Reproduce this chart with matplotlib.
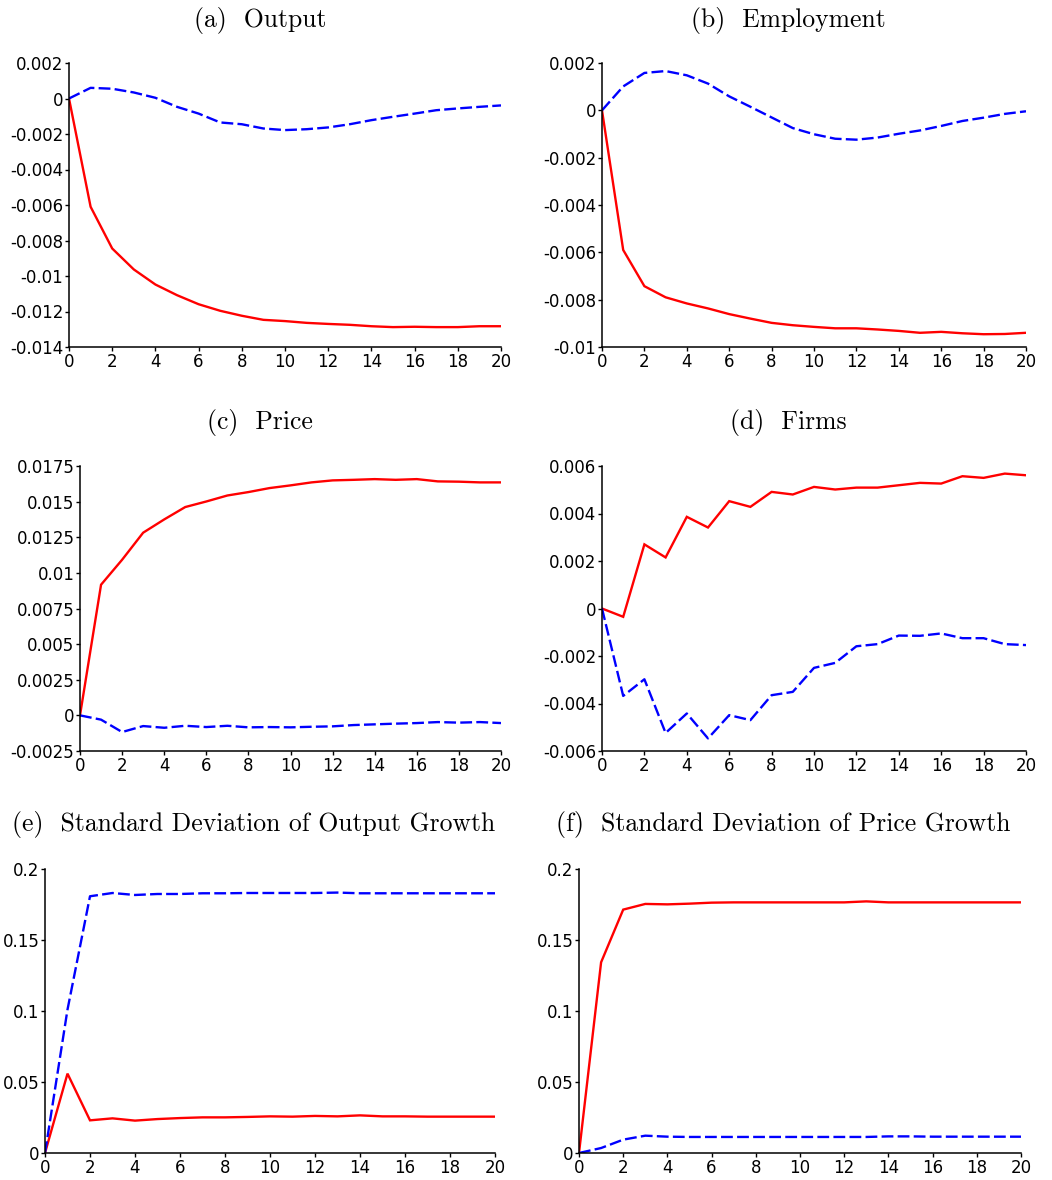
import matplotlib
matplotlib.use("Agg")
import matplotlib.pyplot as plt
from matplotlib.ticker import FuncFormatter, MultipleLocator
import numpy as np

plt.rcParams['font.family'] = 'DejaVu Sans'
plt.rcParams['axes.unicode_minus'] = False

periods = np.arange(21)

# impulse responses: red solid line and blue dashed line per panel
output_red = [0, -0.0061, -0.00845, -0.00963, -0.01048, -0.01108, -0.01159, -0.01196, -0.01224, -0.01247,
              -0.01254, -0.01264, -0.0127, -0.01275, -0.01283, -0.01288, -0.01286, -0.01288, -0.01288, -0.01283, -0.01283]
output_blue = [0, 0.0006, 0.00055, 0.00034, 0.00004, -0.00047, -0.00085, -0.00135, -0.00145, -0.00169,
               -0.00178, -0.00173, -0.00163, -0.00145, -0.00122, -0.00103, -0.00085, -0.00066, -0.00056, -0.00047, -0.00039]

employment_red = [0, -0.0059, -0.00743, -0.0079, -0.00816, -0.00837, -0.00861, -0.0088, -0.00898, -0.00908,
                  -0.00915, -0.00921, -0.00921, -0.00926, -0.00932, -0.0094, -0.00936, -0.00942, -0.00946, -0.00945, -0.0094]
employment_blue = [0, 0.00101, 0.00158, 0.00166, 0.00148, 0.00113, 0.00059, 0.00015, -0.0003, -0.00075,
                   -0.00101, -0.0012, -0.00124, -0.00115, -0.00099, -0.00085, -0.00066, -0.00045, -0.00031, -0.00015, -0.00004]

price_red = [0, 0.00917, 0.01092, 0.01282, 0.01375, 0.01462, 0.01501, 0.01543, 0.01567, 0.01595,
             0.01614, 0.01635, 0.01649, 0.01653, 0.01658, 0.01653, 0.01658, 0.01642, 0.0164, 0.01635, 0.01635]
price_blue = [0, -0.0003, -0.00117, -0.00075, -0.00087, -0.00073, -0.00082, -0.00073, -0.00084, -0.00082,
              -0.00084, -0.0008, -0.00077, -0.00068, -0.00063, -0.00058, -0.00054, -0.00047, -0.00051, -0.00047, -0.00054]

firms_red = [0, -0.00035, 0.0027, 0.00215, 0.00386, 0.00341, 0.00452, 0.00428, 0.00491, 0.0048,
             0.00512, 0.00501, 0.00509, 0.00509, 0.00519, 0.00529, 0.00526, 0.00557, 0.0055, 0.00568, 0.00561]
firms_blue = [0, -0.00368, -0.00298, -0.00524, -0.00442, -0.00547, -0.00449, -0.0047, -0.00365, -0.00351,
              -0.0025, -0.00229, -0.00159, -0.0015, -0.00114, -0.00115, -0.00105, -0.00125, -0.00125, -0.0015, -0.00154]

sd_output_red = [0, 0.0559, 0.023, 0.0244, 0.0228, 0.0239, 0.0246, 0.0251, 0.0251, 0.0254,
                 0.0258, 0.0256, 0.0261, 0.0258, 0.0265, 0.0258, 0.0258, 0.0256, 0.0256, 0.0256, 0.0256]
sd_output_blue = [0, 0.101, 0.1808, 0.1831, 0.1817, 0.1824, 0.1824, 0.1829, 0.1829, 0.1831,
                  0.1831, 0.1831, 0.1831, 0.1834, 0.1829, 0.1829, 0.1829, 0.1829, 0.1829, 0.1829, 0.1829]

sd_price_red = [0, 0.1343, 0.1714, 0.1754, 0.1751, 0.1756, 0.1763, 0.1765, 0.1765, 0.1765,
                0.1765, 0.1765, 0.1765, 0.1772, 0.1765, 0.1765, 0.1765, 0.1765, 0.1765, 0.1765, 0.1765]
sd_price_blue = [0, 0.0035, 0.0094, 0.0122, 0.0115, 0.0113, 0.0113, 0.0113, 0.0113, 0.0113,
                 0.0113, 0.0113, 0.0113, 0.0113, 0.0117, 0.0117, 0.0115, 0.0115, 0.0115, 0.0115, 0.0115]

titles = ['(a)  Output', '(b)  Employment', '(c)  Price', '(d)  Firms',
          '(e)  Standard Deviation of Output Growth', '(f)  Standard Deviation of Price Growth']
red_series = [output_red, employment_red, price_red, firms_red, sd_output_red, sd_price_red]
blue_series = [output_blue, employment_blue, price_blue, firms_blue, sd_output_blue, sd_price_blue]
y_limits = [(-0.014, 0.002), (-0.01, 0.002), (-0.0025, 0.0175), (-0.006, 0.006), (0, 0.2), (0, 0.2)]
y_steps = [0.002, 0.002, 0.0025, 0.002, 0.05, 0.05]

W, H = 1052, 1180
# panel boxes in pixels: left, top, right, bottom
boxes = [(69, 63, 501, 347), (602, 63, 1026, 347),
         (80, 466, 501, 751), (602, 466, 1026, 751),
         (45, 869, 495, 1153), (579, 869, 1021, 1153)]
# title centres in pixels
title_pos = [(260, 21), (788, 21), (260, 422), (788, 422), (254, 824), (783, 824)]

fig = plt.figure(figsize=(W / 100, H / 100), dpi=100)

def fmt(v, pos):
    return '%g' % (round(v, 6) + 0.0)

for i in range(6):
    l, t, r, b = boxes[i]
    ax = fig.add_axes([l / W, 1 - b / H, (r - l) / W, (b - t) / H])
    ax.plot(periods, red_series[i], color='red', lw=1.7, solid_joinstyle='miter')
    ax.plot(periods, blue_series[i], color='blue', lw=1.7, linestyle=(0, (5, 1.8)))
    ax.set_xlim(0, 20)
    ax.set_ylim(*y_limits[i])
    ax.xaxis.set_major_locator(MultipleLocator(2))
    ax.yaxis.set_major_locator(MultipleLocator(y_steps[i]))
    ax.yaxis.set_major_formatter(FuncFormatter(fmt))
    for side in ['top', 'right']:
        ax.spines[side].set_visible(False)
    for side in ['left', 'bottom']:
        ax.spines[side].set_linewidth(1.1)
    ax.tick_params(direction='out', length=3, width=1, pad=1, labelsize=12)
    tx, ty = title_pos[i]
    fig.text(tx / W, 1 - ty / H, titles[i], family='cmr10', fontsize=18.5,
             ha='center', va='center')

fig.savefig('out.png', dpi=100)
